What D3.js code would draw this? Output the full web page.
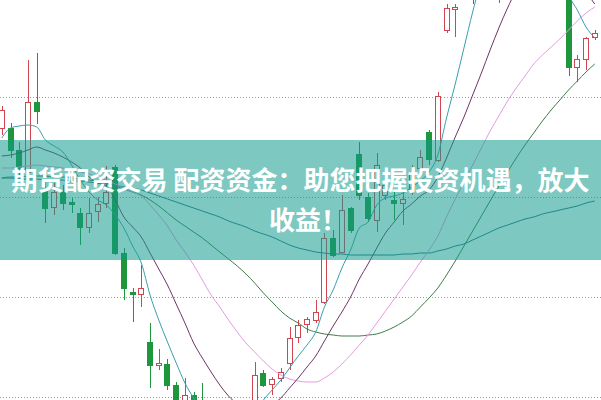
<!DOCTYPE html>
<html><head><meta charset="utf-8">
<script src="https://cdn.jsdelivr.net/npm/d3@7"></script>
<style>html,body{margin:0;padding:0;background:#fff;overflow:hidden}svg{display:block}</style>
</head><body><svg id="chart" width="601" height="400"></svg>
<script>
// ---- data (price units) ----
const openP  = [369,369,347,325,395,307,290,305,295,284,270,286,294,330,244,205,203,155,132,133,112,89,102,87,72,57,67,52,62,87,124,113,119,134,160,173,177,195,259,245,289,343,300,277,302,297,294,307,329,365,337,467,488,500,520,505,525,510,535,550,565,575,560,544,519,540,430,438,460];
const highP  = [391,374,355,437,444,317,314,312,299,289,299,300,331,332,249,209,232,174,148,138,115,119,105,114,82,85,77,72,92,135,127,120,129,170,177,180,197,264,267,302,290,355,304,344,322,305,305,332,347,367,405,493,493,528,530,532,548,540,556,570,580,582,565,548,525,545,442,460,467];
const lowP   = [362,339,317,317,373,274,282,287,284,252,264,275,289,242,197,175,190,109,127,107,87,85,77,65,52,49,45,47,57,82,110,102,115,127,154,164,174,193,240,244,264,297,275,265,297,277,272,302,327,332,335,464,460,498,493,500,515,494,528,542,555,555,540,515,500,421,415,427,457];
const closeP = [387,347,329,395,386,289,305,294,293,270,284,293,305,244,209,203,209,132,134,112,92,102,82,72,57,67,52,62,82,122,112,118,125,159,172,178,185,259,242,287,267,302,279,332,312,294,298,325,340,338,401,489,490,520,505,525,540,535,550,565,575,560,544,519,504,430,438,459,464];

const ma5   = [359,369,371,372,370,357,351,345,332,317,305,297,292,282,269,251,234,202,177,155,134,114,99,87,77,69,65,65,72,85,97,107,117,129,141,152,165,190,207,229,247,269,275,292,299,301,304,310,316,325,342,379,413,449,485,517,537,547,555,562,569,569,562,547,527,502,487,470,459];
const ma10  = [341,342,344,347,350,347,344,340,335,329,320,314,311,297,280,270,260,244,228,212,193,174,154,139,125,112,101,93,87,86,87,92,99,109,119,130,141,156,171,185,200,218,233,249,264,275,286,293,301,307,320,339,360,380,402,424,447,469,489,507,522,532,537,539,537,529,517,505,493];
const ma20  = [329,329,330,331,332,331,330,329,327,325,323,320,317,313,309,305,301,292,282,271,257,245,232,217,202,190,177,165,154,145,136,128,122,118,116,115,115,119,125,133,142,152,162,174,186,198,210,222,235,247,261,280,298,315,332,349,366,381,396,409,421,433,442,450,458,467,476,484,490];
const ma60  = [319,320,320,321,321,321,320,320,319,318,317,316,314,311,308,305,302,297,291,284,277,271,265,259,252,245,238,231,223,214,204,195,186,179,174,168,165,163,162,161,161,161,162,163,166,170,175,181,190,199,209,222,236,251,266,281,296,311,325,339,352,364,376,387,397,407,416,425,433];
const ma120 = [319,319,318,318,318,317,317,317,316,316,315,314,313,312,310,309,307,304,301,298,295,292,289,286,283,280,276,273,270,266,263,260,256,252,249,247,245,244,243,243,242,242,242,242,242,242,243,243,244,244,246,248,251,253,257,261,265,269,272,275,278,280,283,285,287,289,291,294,296];

const gridValues = [100, 200, 300, 400];
const bannerLines = ["期货配资交易 配资资金：助您把握投资机遇，放大", "收益！"];

// ---- drawing ----
const W = 601, H = 400;
const svg = d3.select("#chart");
const days = d3.range(closeP.length);
const x = d3.scalePoint().domain(days).range([1.8, 594.76]);
const y = d3.scaleLinear().domain([97, 497]).range([400, 0]);

const RED = "#d0454f", GREEN = "#1e963c";

svg.append("g").selectAll("line").data(gridValues).join("line")
  .attr("x1", 0).attr("x2", W)
  .attr("y1", d => Math.round(y(d)) + 0.5).attr("y2", d => Math.round(y(d)) + 0.5)
  .attr("stroke", "#9a9a9a").attr("stroke-width", 1).attr("stroke-dasharray", "1,2");

const cg = svg.append("g");
days.forEach(i => {
  const o = openP[i], c = closeP[i], up = c >= o;
  const col = up ? RED : GREEN;
  const cx = Math.round(x(i));
  cg.append("line")
    .attr("x1", cx + 0.5).attr("x2", cx + 0.5)
    .attr("y1", y(highP[i])).attr("y2", y(lowP[i]))
    .attr("stroke", col).attr("stroke-width", 1);
  const top = Math.round(y(Math.max(o, c))) + 0.5;
  const bot = Math.round(y(Math.min(o, c))) + 0.5;
  cg.append("rect")
    .attr("x", cx - 2.5).attr("y", top)
    .attr("width", 5).attr("height", Math.max(1, bot - top))
    .attr("fill", up ? "#ffffff" : col).attr("stroke", col).attr("stroke-width", 1);
});

const series = [
  {v: ma120, color: "#2e7486"},
  {v: ma60,  color: "#3e7d48"},
  {v: ma20,  color: "#e59be0"},
  {v: ma10,  color: "#6e3465"},
  {v: ma5,   color: "#3a9fae"}
];
const line = d3.line().x((d, i) => x(i)).y(d => y(d)).curve(d3.curveMonotoneX);
svg.append("g").selectAll("path").data(series).join("path")
  .attr("d", s => line(s.v)).attr("fill", "none")
  .attr("stroke", s => s.color).attr("stroke-width", 1);

svg.append("rect").attr("x", 0).attr("y", 140).attr("width", W).attr("height", 120)
  .attr("fill", "rgb(18,155,140)").attr("opacity", 0.55);

svg.append("g").selectAll("text").data(bannerLines).join("text")
  .attr("x", (d, i) => i === 0 ? 300.5 : 308)
  .attr("y", (d, i) => 190 + i * 40)
  .attr("text-anchor", "middle")
  .attr("font-family", "'Noto Sans CJK SC', sans-serif")
  .attr("font-weight", "bold").attr("font-size", 26)
  .attr("fill", "#ffffff")
  .text(d => d);
</script>
</body></html>
